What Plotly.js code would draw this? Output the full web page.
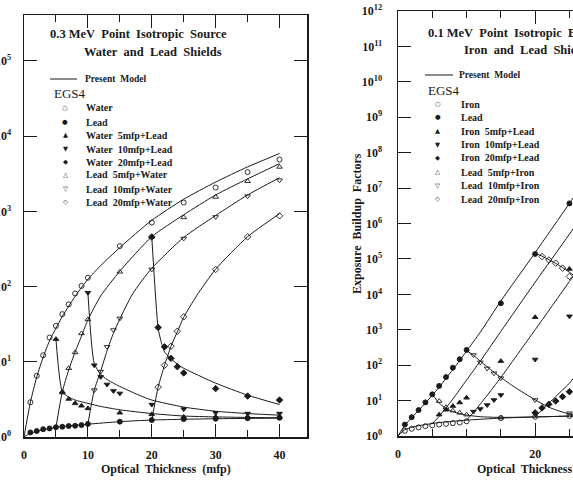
<!DOCTYPE html>
<html>
<head>
<meta charset="utf-8">
<script src="https://cdn.plot.ly/plotly-3.0.1.min.js"></script>
<style>
  html, body { margin: 0; padding: 0; overflow: hidden; background: #fff; }
  #chart { width: 700px; height: 480px; }
</style>
</head>
<body>
<div id="chart"></div>
<script>
// ---------- 0.3 MeV source, water and lead shields (left panel) ----------
// EGS4 points
const wWaterX = [1, 2, 3, 4, 5, 6, 7, 8, 9, 10, 15, 20, 25, 30, 35, 40];
const wWaterY = [2.9, 6.5, 12.2, 21, 30, 43, 58, 81, 102, 131, 345, 710, 1310, 2070, 3320, 4880];
const wLeadX = [1, 2, 3, 4, 5, 6, 7, 8, 9, 10, 15, 20, 25, 30, 35, 40];
const wLeadY = [1.15, 1.2, 1.27, 1.3, 1.35, 1.37, 1.4, 1.41, 1.44, 1.49, 1.6, 1.68, 1.73, 1.75, 1.78, 1.8];
const wW5LX = [5, 6, 7, 8, 9, 10, 15, 20, 25, 30, 35, 40];
const wW5LY = [20, 3.9, 3.2, 2.8, 2.6, 2.4, 2.1, 2.0, 1.85, 1.85, 1.85, 1.85];
const wW10LX = [10, 11, 12, 13, 14, 15, 20, 25, 30, 35, 40];
const wW10LY = [83, 9.0, 6.3, 5.0, 4.1, 3.8, 2.7, 2.35, 2.1, 2.05, 2.05];
const wW20LX = [20, 21, 22, 23, 24, 25, 30, 35, 40];
const wW20LY = [457, 28.6, 15.8, 11.1, 8.6, 7.1, 4.4, 3.5, 3.1];
const wL5WX = [6, 7, 8, 9, 10, 15, 20, 25, 30, 35, 40];
const wL5WY = [4.0, 8.2, 13.3, 23.8, 36.6, 157, 457, 830, 1550, 2510, 3890];
const wL10WX = [11, 12, 13, 14, 15, 20, 25, 30, 35, 40];
const wL10WY = [4.2, 7.4, 15.8, 26.4, 37.7, 169, 436, 842, 1590, 2590];
const wL20WX = [21, 22, 23, 24, 25, 30, 35, 40];
const wL20WY = [4.6, 9.0, 16.1, 25.5, 39.6, 169, 457, 870];

// Present model curves
const mWaterX = [0, 1, 2, 3, 4, 5, 6, 7, 8, 9, 10, 12, 15, 20, 25, 30, 35, 40];
const mWaterY = [1, 2.9, 6.3, 11.5, 19, 28, 40, 55, 74, 97, 125, 190, 330, 760, 1450, 2450, 3900, 5870];
const mLeadX = [0, 1, 2, 3, 4, 5, 6, 8, 10, 15, 20, 25, 30, 40];
const mLeadY = [1, 1.12, 1.19, 1.25, 1.3, 1.34, 1.38, 1.43, 1.48, 1.6, 1.68, 1.72, 1.75, 1.78];
const mW5LX = [5, 6, 7, 8, 10, 12, 15, 20, 25, 30, 35, 40];
const mW5LY = [20, 4.0, 3.4, 3.1, 2.8, 2.55, 2.3, 2.05, 1.9, 1.85, 1.82, 1.8];
const mW10LX = [10, 11, 12, 13, 14, 15, 18, 20, 25, 30, 35, 40];
const mW10LY = [83, 9.5, 6.8, 5.8, 5.2, 4.7, 3.6, 3.1, 2.5, 2.2, 2.05, 1.95];
const mW20LX = [20, 21, 21.5, 22, 23, 24, 25, 30, 35, 40];
const mW20LY = [460, 28, 18, 13.5, 11, 9.3, 8.2, 5.2, 3.6, 2.7];
const mL5WX = [5, 6, 7, 8, 9, 10, 12, 15, 20, 25, 30, 35, 40];
const mL5WY = [1.34, 4.0, 7.8, 13.5, 22, 36, 75, 160, 460, 900, 1650, 2700, 4300];
const mL10WX = [10, 11, 12, 13, 14, 15, 17, 20, 25, 30, 35, 40];
const mL10WY = [1.48, 4.2, 7.5, 14, 24, 37, 80, 175, 450, 880, 1650, 2800];
const mL20WX = [20, 21, 22, 23, 24, 25, 27, 30, 35, 40];
const mL20WY = [1.68, 4.6, 9, 16, 25, 39, 75, 170, 460, 930];

// ---------- 0.1 MeV source, iron and lead shields (right panel) ----------
// EGS4 points
const fIronX = [1, 2, 3, 4, 5, 6, 7, 8, 9, 10, 15, 20, 25];
const fIronY = [1.4, 1.6, 1.75, 1.9, 2.0, 2.1, 2.2, 2.3, 2.4, 2.6, 3.2, 3.5, 3.7];
const fLeadX = [1, 2, 3, 4, 5, 6, 7, 8, 9, 10, 15, 20, 25];
const fLeadY = [2.1, 3.4, 5.4, 8.9, 15, 26, 46, 85, 147, 270, 5600, 1.38e5, 3.7e6];
const fI5LX = [6, 7, 8, 9, 10, 15, 20, 25];
const fI5LY = [4.0, 5.5, 7.0, 8.8, 12, 130, 2250, 52000];
const fI10LX = [11, 12, 13, 14, 15, 20, 25];
const fI10LY = [4.9, 5.8, 7.5, 10.4, 14.4, 145, 2400];
const fI20LX = [20, 21, 22, 23, 24, 25];
const fI20LY = [4.5, 6.2, 7.9, 9.7, 12.9, 17.8];
const fL5IX = [6, 7, 8, 9, 10, 15];
const fL5IY = [9.7, 6.5, 5.2, 4.5, 4.0, 3.3];
const fL10IX = [11, 12, 13, 14, 15, 20, 25];
const fL10IY = [194, 120, 81, 59, 43, 10.4, 4.4];
const fL20IX = [21, 22, 23, 24, 25];
const fL20IY = [1.17e5, 9.3e4, 7.6e4, 5.5e4, 3.2e4];

// Present model curves
const nIronX = [0, 1, 2, 3, 4, 5, 6, 8, 10, 15, 20, 25, 30];
const nIronY = [1, 1.5, 1.75, 1.95, 2.1, 2.25, 2.4, 2.6, 2.8, 3.2, 3.45, 3.65, 3.8];
const nLeadX = [0, 1, 2, 3, 4, 5, 6, 7, 8, 9, 10, 12, 15, 20, 25, 30];
const nLeadY = [1, 2.0, 3.3, 5.3, 8.6, 14, 24, 42, 75, 135, 250, 850, 6500, 1.5e5, 3.7e6, 9e7];
const nI5LX = [5, 6, 7, 8, 10, 12, 15, 20, 25, 30];
const nI5LY = [2.2, 3.6, 6.2, 11, 38, 130, 900, 2.2e4, 5e5, 1.2e7];
const nI10LX = [10, 11, 12, 13, 15, 20, 25, 30];
const nI10LY = [2.8, 4.6, 8, 14, 45, 1000, 2.3e4, 5e5];
const nI20LX = [20, 21, 22, 23, 24, 25, 30];
const nI20LY = [3.45, 5.5, 8.5, 13, 20, 31, 600];
const nL5IX = [5, 6, 7, 8, 9, 10, 12, 15, 20, 25, 30];
const nL5IY = [15, 8.5, 6.0, 4.9, 4.3, 3.9, 3.5, 3.35, 3.45, 3.65, 3.8];
const nL10IX = [10, 11, 12, 13, 14, 15, 17, 20, 22, 25, 30];
const nL10IY = [260, 190, 130, 90, 63, 45, 24, 10.5, 6.5, 4.2, 3.8];
const nL20IX = [20, 21, 22, 23, 24, 25, 30];
const nL20IY = [1.45e5, 1.2e5, 9.5e4, 7.5e4, 5.7e4, 4.2e4, 8000];

// Tick labels
const leftTickVals = [1, 10, 100, 1e3, 1e4, 1e5];
const leftTickText = ['10<sup>0</sup>', '10<sup>1</sup>', '10<sup>2</sup>', '10<sup>3</sup>', '10<sup>4</sup>', '10<sup>5</sup>'];
const rightTickVals = [1, 1e1, 1e2, 1e3, 1e4, 1e5, 1e6, 1e7, 1e8, 1e9, 1e10, 1e11, 1e12];
const rightTickText = rightTickVals.map((v, i) => '10<sup>' + i + '</sup>');

// Legend labels
const leftLegend = ['Water', 'Lead', 'Water\u00a0 5mfp+Lead', 'Water\u00a0 10mfp+Lead', 'Water\u00a0 20mfp+Lead',
                    'Lead\u00a0 5mfp+Water', 'Lead\u00a0 10mfp+Water', 'Lead\u00a0 20mfp+Water'];
const rightLegend = ['Iron', 'Lead', 'Iron\u00a0 5mfp+Lead', 'Iron\u00a0 10mfp+Lead', 'Iron\u00a0 20mfp+Lead',
                     'Lead\u00a0 5mfp+Iron', 'Lead\u00a0 10mfp+Iron', 'Lead\u00a0 20mfp+Iron'];
const legendGlyphs = ['\u25CB', '\u25CF', '\u25B2', '\u25BC', '\u25C6', '\u25B3', '\u25BD', '\u25C7'];

// ---------- drawing ----------
const W = 700, H = 480;
const fx = p => p / W;          // pixel -> paper x
const fy = p => 1 - p / H;      // pixel -> paper y
const SERIF = 'Liberation Serif, Times New Roman, serif';
const INK = '#1a1a1a';

const symbols = ['circle-open', 'circle', 'triangle-up', 'triangle-down', 'diamond',
                 'triangle-up-open', 'triangle-down-open', 'diamond-open'];
const sizes = [5, 5, 5, 5, 5, 5, 5, 5];

const traces = [];
function model(x, y, ax) {
  traces.push({x: x, y: y, xaxis: ax[0], yaxis: ax[1], mode: 'lines', type: 'scatter',
               line: {color: INK, width: 1, shape: 'spline', smoothing: 0.6}, hoverinfo: 'skip', showlegend: false});
}
function points(x, y, k, ax) {
  traces.push({x: x, y: y, xaxis: ax[0], yaxis: ax[1], mode: 'markers', type: 'scatter', cliponaxis: false,
               marker: {symbol: symbols[k], size: sizes[k], color: INK, line: {color: INK, width: 0.9}},
               hoverinfo: 'skip', showlegend: false});
}

const L = ['x', 'y'], R = ['x2', 'y2'];
[[mWaterX, mWaterY], [mLeadX, mLeadY], [mW5LX, mW5LY], [mW10LX, mW10LY], [mW20LX, mW20LY],
 [mL5WX, mL5WY], [mL10WX, mL10WY], [mL20WX, mL20WY]].forEach(s => model(s[0], s[1], L));
[[wWaterX, wWaterY], [wLeadX, wLeadY], [wW5LX, wW5LY], [wW10LX, wW10LY], [wW20LX, wW20LY],
 [wL5WX, wL5WY], [wL10WX, wL10WY], [wL20WX, wL20WY]].forEach((s, k) => points(s[0], s[1], k, L));
[[nIronX, nIronY], [nLeadX, nLeadY], [nI5LX, nI5LY], [nI10LX, nI10LY], [nI20LX, nI20LY],
 [nL5IX, nL5IY], [nL10IX, nL10IY], [nL20IX, nL20IY]].forEach(s => model(s[0], s[1], R));
[[fIronX, fIronY], [fLeadX, fLeadY], [fI5LX, fI5LY], [fI10LX, fI10LY], [fI20LX, fI20LY],
 [fL5IX, fL5IY], [fL10IX, fL10IY], [fL20IX, fL20IY]].forEach((s, k) => points(s[0], s[1], k, R));

const tickFont = {family: SERIF, size: 12, color: INK, weight: 'bold'};
function xAxis(domain, range, dtick, minorDtick, anchor) {
  return {domain: domain, range: range, anchor: anchor, dtick: dtick, tick0: 0,
          showgrid: false, zeroline: false, showline: true, linecolor: INK, linewidth: 1.5,
          mirror: 'ticks', ticks: 'inside', ticklen: 13, tickwidth: 1, tickcolor: INK,
          minor: {dtick: minorDtick, tick0: 0, ticks: 'inside', ticklen: 7, tickwidth: 1, tickcolor: INK, showgrid: false},
          tickfont: tickFont, ticklabelstandoff: 6, fixedrange: true};
}
function yAxis(domain, range, vals, text, anchor, standoff) {
  return {domain: domain, range: range, anchor: anchor, type: 'log', tickmode: 'array', tickvals: vals, ticktext: text,
          showgrid: false, zeroline: false, showline: true, linecolor: INK, linewidth: 1.5,
          mirror: 'ticks', ticks: 'inside', ticklen: 13, tickwidth: 1, tickcolor: INK,
          tickfont: tickFont, ticklabelstandoff: standoff, fixedrange: true};
}

const annotations = [];
function text(t, x, y, opts) {
  annotations.push(Object.assign({text: t, x: fx(x), y: fy(y), xref: 'paper', yref: 'paper',
    showarrow: false, xanchor: 'left', yanchor: 'middle',
    font: {family: SERIF, size: 10, color: INK, weight: 'bold'}}, opts || {}));
}
const shapes = [];

// Panel titles
text('0.3 MeV\u00a0 Point\u00a0 Isotropic\u00a0 Source', 138, 34, {xanchor: 'center', font: {family: SERIF, size: 12.5, color: INK, weight: 'bold'}});
text('Water\u00a0 and\u00a0 Lead\u00a0 Shields', 153, 52, {xanchor: 'center', font: {family: SERIF, size: 12.5, color: INK, weight: 'bold'}});
text('0.1 MeV\u00a0 Point\u00a0 Isotropic\u00a0 Buildup', 426, 33, {font: {family: SERIF, size: 12.5, color: INK, weight: 'bold'}});
text('Iron\u00a0 and\u00a0 Lead\u00a0 Shields', 462, 50, {font: {family: SERIF, size: 12.5, color: INK, weight: 'bold'}});

// Legends
function legend(lineX0, lineX1, lineY, labelX, egsX, egsY, glyphX, textX, rows, labels) {
  shapes.push({type: 'line', xref: 'paper', yref: 'paper', x0: fx(lineX0), x1: fx(lineX1), y0: fy(lineY), y1: fy(lineY),
               line: {color: INK, width: 1}});
  text('Present\u00a0 Model', labelX, lineY, {font: {family: SERIF, size: 9.5, color: INK, weight: 'bold'}});
  text('EGS4', egsX, egsY, {font: {family: SERIF, size: 13, color: INK, weight: 'normal'}});
  labels.forEach((lab, i) => {
    text(legendGlyphs[i], glyphX, rows[i], {xanchor: 'center', font: {family: 'DejaVu Sans', size: 6.5, color: INK}});
    text(lab, textX, rows[i]);
  });
}
legend(50, 77, 79, 83, 52, 94, 65, 84, [108, 122, 135, 149, 162, 175, 189, 202], leftLegend);
legend(425, 453, 75, 457, 426, 90, 438, 459, [104, 117, 131, 145, 158, 172, 186, 199], rightLegend);

// Axis titles
const titleFont = {family: SERIF, size: 12, color: INK, weight: 'bold'};
text('Optical\u00a0 Thickness\u00a0 (mfp)', 165.5, 469, {xanchor: 'center', font: titleFont});
text('Optical\u00a0 Thickness\u00a0 (mfp)', 542, 469, {xanchor: 'center', font: titleFont});
text('Exposure\u00a0 Buildup\u00a0 Factors', 357, 224, {xanchor: 'center', textangle: -90, font: titleFont});

const layout = {
  width: W, height: H, margin: {l: 0, r: 0, t: 0, b: 0},
  paper_bgcolor: '#fff', plot_bgcolor: '#fff', showlegend: false,
  xaxis: xAxis([fx(24), fx(307)], [0, 44.3], 10, 5, 'y'),
  yaxis: yAxis([fy(437), fy(15)], [0, 5.61], leftTickVals, leftTickText, 'x', 9),
  xaxis2: xAxis([fx(398), fx(686)], [0, 42], 20, 5, 'y2'),
  yaxis2: yAxis([fy(436), fy(11)], [0, 12], rightTickVals, rightTickText, 'x2', 12),
  annotations: annotations, shapes: shapes
};

Plotly.newPlot('chart', traces, layout, {displayModeBar: false, staticPlot: true});
</script>
</body>
</html>
